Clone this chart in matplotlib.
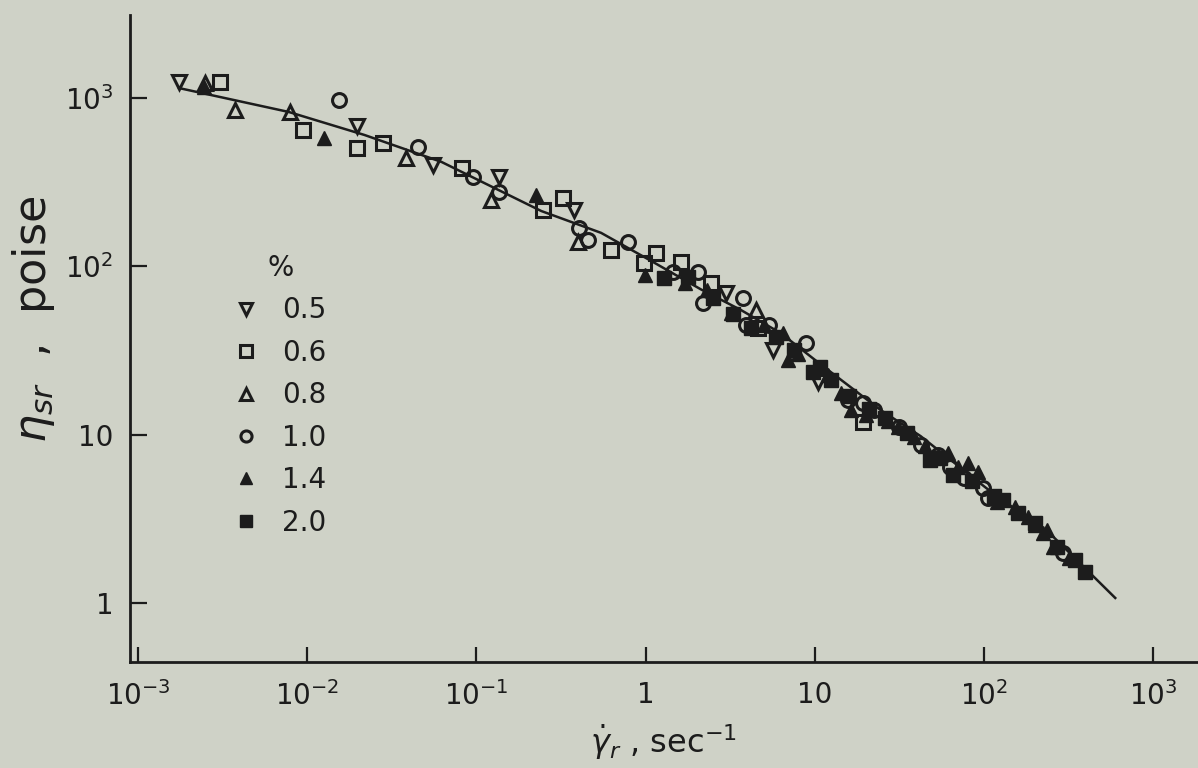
#!/usr/bin/env python3

"""reduced viscosity vs reduced shear rate, master curve for several concentrations"""

import matplotlib
matplotlib.use('Agg')
import matplotlib.pyplot as plt
from matplotlib.ticker import FixedLocator, FixedFormatter, NullLocator

# master curve (shear rate sec^-1, viscosity poise)
curve_rate = [1.75e-3, 7.78e-3, 0.0218, 0.0622, 0.111, 0.242, 0.546, 1.09, 2.12,
              3.66, 6.31, 10.6, 24.5, 42.2, 103, 257, 597]
curve_eta = [1145, 826, 603, 417, 313, 213, 158, 107, 73, 55, 40, 26.6, 14.0, 9.8,
             4.82, 2.47, 1.07]

# measured points, one list pair per concentration (%)
rate_05 = [1.75e-3, 0.0196, 0.0557, 0.137, 0.378, 2.98, 5.65, 10.4]
eta_05 = [1245, 680, 400, 340, 216, 69, 31.8, 20.5]

rate_06 = [3.05e-3, 9.4e-3, 0.0196, 0.0282, 0.0817, 0.248, 0.326, 0.625, 0.98, 1.15,
           1.62, 2.43, 4.61, 19.4]
eta_06 = [1245, 646, 505, 541, 383, 216, 255, 125, 105, 120, 106, 80, 43, 11.9]

rate_08 = [2.5e-3, 3.73e-3, 7.9e-3, 0.0386, 0.1226, 0.4, 4.49]
eta_08 = [1230, 849, 826, 440, 248, 139, 55]

rate_10 = [0.0155, 0.0455, 0.096, 0.137, 0.405, 0.458, 0.789, 1.45, 2.04, 2.18,
           3.76, 3.92, 5.36, 8.85, 15.8, 19.4, 22.3, 31.3, 42.2, 53.2, 63.4, 75.7,
           99.3, 106, 294]
eta_10 = [973, 512, 340, 276, 169, 143, 139, 92, 92, 60.5, 65, 45, 45, 35, 16,
          15.4, 14, 11.1, 8.7, 7.56, 6.41, 5.52, 4.82, 4.2, 1.98]

rate_14 = [2.45e-3, 0.0125, 0.226, 0.99, 1.7, 2.3, 3.19, 5.0, 6.47, 6.93, 8.0, 12,
           14.2, 16.3, 20, 27, 30.9, 38.4, 45, 61, 70, 80, 91.6, 120, 153, 181, 200,
           224, 237, 257, 320]
eta_14 = [1160, 578, 265, 89, 80, 72, 53, 45, 40, 27.7, 30, 22.5, 17.7, 14, 13, 12,
          11.1, 9.7, 8.5, 7.8, 6.4, 6.77, 6.0, 4.0, 3.71, 3.24, 2.9, 2.6, 2.71, 2.15,
          1.85]

rate_20 = [1.28, 1.78, 2.5, 3.3, 4.2, 5.9, 7.5, 9.72, 10.8, 12.5, 16, 21, 26, 35,
           48.3, 55, 66, 85, 115, 130, 158, 200, 270, 347, 397]
eta_20 = [85, 86, 65, 52, 43, 38, 32, 23.6, 25.2, 21, 17, 14.2, 12.5, 10.2, 7.06,
          7.3, 5.75, 5.3, 4.3, 4.08, 3.42, 3.0, 2.15, 1.8, 1.53]

x_ticks = [1e-3, 1e-2, 1e-1, 1, 10, 1e2, 1e3]
x_labels = ['$10^{-3}$', '$10^{-2}$', '$10^{-1}$', '1', '10', '$10^{2}$', '$10^{3}$']
y_ticks = [1, 10, 1e2, 1e3]
y_labels = ['1', '10', '$10^{2}$', '$10^{3}$']

paper = '#cfd2c7'
ink = '#1c1c1c'

plt.rcParams['font.family'] = ['DejaVu Sans']
plt.rcParams['mathtext.fontset'] = 'dejavusans'

fig = plt.figure(figsize=(11.98, 7.68), dpi=100, facecolor=paper)
ax = fig.add_axes([130 / 1198, 1 - 662 / 768, 1 - 130 / 1198, (662 - 15) / 768])
ax.set_facecolor(paper)
ax.set_xscale('log')
ax.set_yscale('log')
ax.set_xlim(10 ** -3.047, 10 ** 3.265)
ax.set_ylim(10 ** -0.351, 10 ** 3.493)

#master curve
ax.plot(curve_rate, curve_eta, color=ink, lw=1.8, zorder=2)

#data points
ms = 10
open_kw = dict(linestyle='none', markersize=ms, markerfacecolor='none',
               markeredgecolor=ink, markeredgewidth=2.2, color=ink, zorder=3)
fill_kw = dict(linestyle='none', markersize=ms, markerfacecolor=ink,
               markeredgecolor=ink, markeredgewidth=1.0, color=ink, zorder=3)
h1, = ax.plot(rate_05, eta_05, marker='v', label='0.5', **open_kw)
h2, = ax.plot(rate_06, eta_06, marker='s', label='0.6', **open_kw)
h3, = ax.plot(rate_08, eta_08, marker='^', label='0.8', **open_kw)
h4, = ax.plot(rate_10, eta_10, marker='o', label='1.0', **open_kw)
h5, = ax.plot(rate_14, eta_14, marker='^', label='1.4', **fill_kw)
h6, = ax.plot(rate_20, eta_20, marker='s', label='2.0', **fill_kw)

#axes look
for side in ['top', 'right']:
    ax.spines[side].set_visible(False)
for side in ['left', 'bottom']:
    ax.spines[side].set_linewidth(2.0)
    ax.spines[side].set_color(ink)

ax.xaxis.set_major_locator(FixedLocator(x_ticks))
ax.xaxis.set_major_formatter(FixedFormatter(x_labels))
ax.xaxis.set_minor_locator(NullLocator())
ax.yaxis.set_major_locator(FixedLocator(y_ticks))
ax.yaxis.set_major_formatter(FixedFormatter(y_labels))
ax.yaxis.set_minor_locator(NullLocator())
ax.tick_params(axis='x', direction='in', length=11, width=1.6, color=ink,
               labelsize=20, labelcolor=ink, pad=14)
ax.tick_params(axis='y', direction='in', length=12, width=1.6, color=ink,
               labelsize=20, labelcolor=ink, pad=12)

ax.set_xlabel(r'$\dot{\gamma}_r$ , sec$^{-1}$', fontsize=23, color=ink, labelpad=8)
ax.set_ylabel(r'$\eta_{sr}$  ,  poise', fontsize=32, color=ink)
ax.yaxis.set_label_coords(-0.068, 0.53)

#legend
leg = ax.legend(handles=[h1, h2, h3, h4, h5, h6], title='%', loc='upper left',
                bbox_to_anchor=(221 / 1198, 1 - 240 / 768), bbox_transform=fig.transFigure,
                frameon=False, fontsize=20, title_fontsize=20, markerscale=0.8,
                handlelength=0.8, handletextpad=0.9, labelspacing=0.52, borderpad=0)
for t in leg.get_texts():
    t.set_color(ink)
leg.get_title().set_color(ink)

plt.savefig('out.png', dpi=100, facecolor=paper)
